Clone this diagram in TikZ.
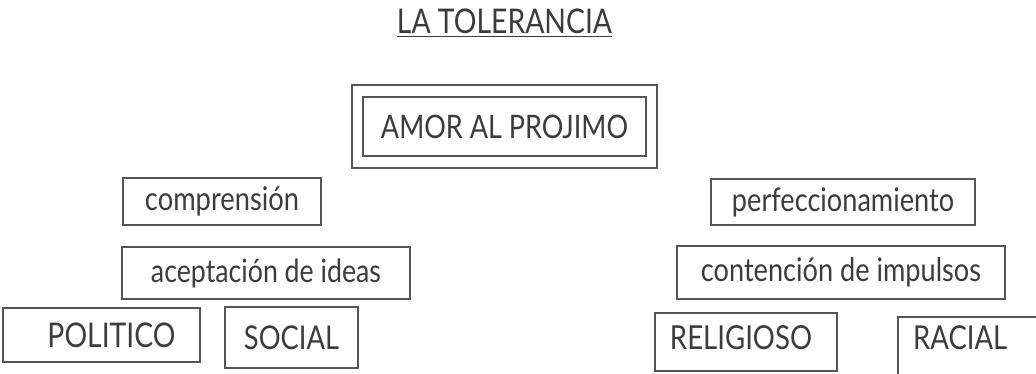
\documentclass[tikz,border=0pt]{standalone}
\usepackage{fontspec}
\setmainfont{Lato}
\usepackage{graphicx}
\definecolor{ink}{HTML}{3C3C3C}
\definecolor{boxline}{HTML}{555555}
\newcommand\fitw[2]{\scalebox{1}[1.2]{\resizebox{#1pt}{!}{#2}}}
\begin{document}
\begin{tikzpicture}[x=1pt,y=-1pt,
  wordbox/.style={draw=boxline,line width=1.8pt,inner sep=0pt,text=ink,anchor=center},
  plain/.style={inner sep=0pt,text=ink}]
\clip (0,0) rectangle (1036,373);
\fill[white] (0,0) rectangle (1036,373);
% title
\node[plain] (title) at (504.5,21) {\fitw{215}{LA TOLERANCIA}};
\draw[ink,line width=1.3pt] ([yshift=-3pt]title.south west) -- ([yshift=-3pt]title.south east);
% central double box
\node[wordbox,minimum width=305pt,minimum height=83pt] (outer) at (504.5,126.5) {};
\node[wordbox,minimum width=283pt,minimum height=59pt] (amor) at (504.5,126.5) {\fitw{247}{AMOR AL PROJIMO}};
% left side
\node[wordbox,minimum width=198pt,minimum height=47pt] (compr) at (222,201.5) {\fitw{154}{comprensión}};
\node[wordbox,minimum width=288pt,minimum height=52pt] (acept) at (266,273) {\fitw{230}{aceptación de ideas}};
\node[wordbox,minimum width=197pt,minimum height=54pt] (polit) at (101.5,335) {\hspace{20pt}\fitw{128}{POLITICO}};
\node[wordbox,minimum width=133pt,minimum height=61pt] (social) at (291.5,337.5) {\fitw{95}{SOCIAL}};
% right side
\node[wordbox,minimum width=264pt,minimum height=46pt] (perf) at (843,202) {\fitw{222}{perfeccionamiento}};
\node[wordbox,minimum width=328pt,minimum height=53pt] (cont) at (841,272.5) {\fitw{280}{contención de impulsos}};
\node[wordbox,minimum width=182pt,minimum height=58pt] (relig) at (746,342) {};
\node[plain] (religtxt) at (741,338) {\fitw{142}{RELIGIOSO}};
\node[wordbox,minimum width=142pt,minimum height=80pt] (racial) at (969,357) {};
\node[plain,anchor=west] (racialtxt) at (913,337.5) {\fitw{94}{RACIAL}};
\end{tikzpicture}
\end{document}
